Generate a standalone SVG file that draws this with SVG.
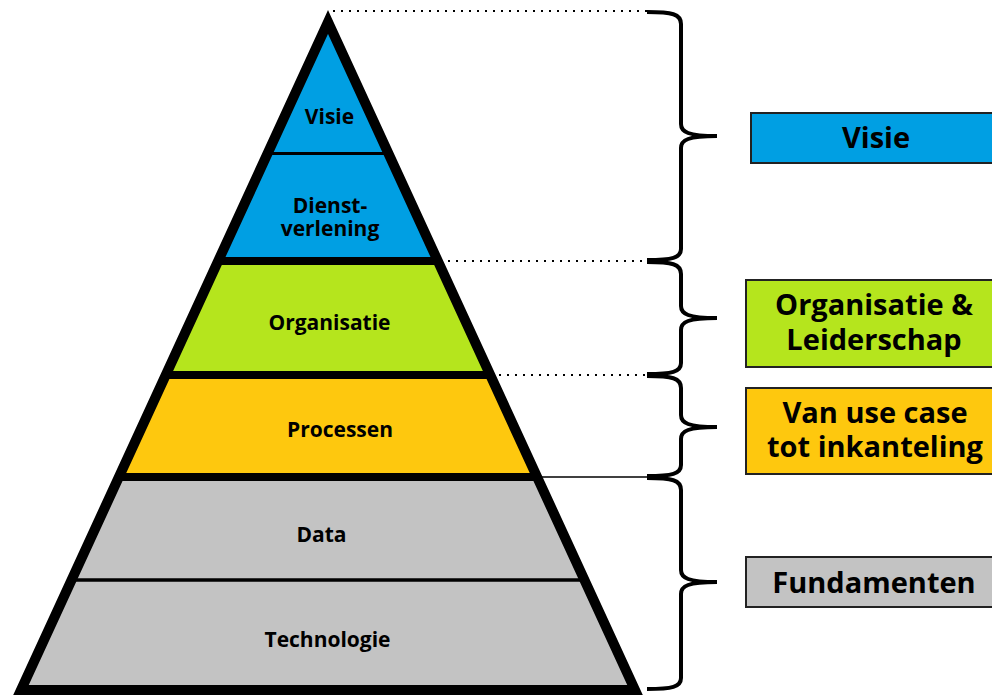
<svg xmlns="http://www.w3.org/2000/svg" width="992" height="696" viewBox="0 0 992 696">
<style>
.lbl{font-family:"Open Sans","Liberation Sans",sans-serif;font-weight:bold;font-size:21px;fill:#000;text-anchor:middle}
.big{font-family:"Open Sans","Liberation Sans",sans-serif;font-weight:bold;font-size:29px;fill:#000;text-anchor:middle}
.box{stroke:#222;stroke-width:2}
.brace{fill:none;stroke:#000;stroke-width:4;stroke-linecap:butt}
.dot{stroke:#000;stroke-width:2;stroke-dasharray:2 6}
</style>
<defs>
<clipPath id="tri"><polygon points="328,22 21,690 635,690"/></clipPath>
</defs>
<rect width="992" height="696" fill="#fff"/>
<g id="connectors">
<line class="dot" x1="333" y1="11" x2="647" y2="11"/>
<line class="dot" x1="448" y1="261" x2="647" y2="261"/>
<line class="dot" x1="499" y1="375" x2="647" y2="375"/>
<line x1="540" y1="477" x2="647" y2="477" stroke="#000" stroke-width="1.5"/>
<path class="brace" d="M647,12 C672,12 681,14 681,24 L681,124 C681,132 688,136 717,136 M717,136 C688,136 681,140 681,148 L681,249 C681,258 672,260 647,260"/>
<path class="brace" d="M647,262 C672,262 681,264 681,274 L681,306 C681,314 688,318 717,318 M717,318 C688,318 681,322 681,330 L681,363 C681,372 672,374 647,374"/>
<path class="brace" d="M647,376 C672,376 681,378 681,388 L681,415 C681,423 688,427 717,427 M717,427 C688,427 681,431 681,439 L681,465 C681,474 672,476 647,476"/>
<path class="brace" d="M647,478 C672,478 681,480 681,490 L681,570 C681,578 688,582 717,582 M717,582 C688,582 681,586 681,594 L681,678 C681,687 672,689 647,689"/>
</g>
<g id="pyramid">
<g clip-path="url(#tri)">
<rect x="0" y="0" width="700" height="261" fill="#009FE3"/>
<rect x="0" y="261" width="700" height="114" fill="#B5E51D"/>
<rect x="0" y="375" width="700" height="102" fill="#FEC80E"/>
<rect x="0" y="477" width="700" height="220" fill="#C3C3C3"/>
<line x1="0" y1="153.5" x2="700" y2="153.5" stroke="#000" stroke-width="3"/>
<line x1="0" y1="261" x2="700" y2="261" stroke="#000" stroke-width="8"/>
<line x1="0" y1="375" x2="700" y2="375" stroke="#000" stroke-width="8"/>
<line x1="0" y1="477" x2="700" y2="477" stroke="#000" stroke-width="8"/>
<line x1="0" y1="580" x2="700" y2="580" stroke="#000" stroke-width="3.5"/>
</g>
<polygon points="328,22 21,690 635,690" fill="none" stroke="#000" stroke-width="10" stroke-linejoin="miter" stroke-miterlimit="10"/>
</g>
<g id="layer-visie"><text class="lbl" x="329.5" y="124">Visie</text></g>
<g id="layer-dienstverlening"><text class="lbl" x="330" y="213">Dienst-</text><text class="lbl" x="330" y="236">verlening</text></g>
<g id="layer-organisatie"><text class="lbl" x="329.5" y="330">Organisatie</text></g>
<g id="layer-processen"><text class="lbl" x="340" y="437">Processen</text></g>
<g id="layer-data"><text class="lbl" x="321.5" y="542">Data</text></g>
<g id="layer-technologie"><text class="lbl" x="327.5" y="647">Technologie</text></g>
<g id="box-visie"><rect class="box" x="751" y="113" width="260" height="50" fill="#009FE3"/><text class="big" x="876" y="148">Visie</text></g>
<g id="box-organisatie"><rect class="box" x="746" y="280" width="260" height="87" fill="#B5E51D"/><text class="big" x="874" y="315">Organisatie &amp;</text><text class="big" x="874" y="350">Leiderschap</text></g>
<g id="box-processen"><rect class="box" x="746" y="388" width="260" height="86" fill="#FEC80E"/><text class="big" x="875" y="423">Van use case</text><text class="big" x="875" y="457">tot inkanteling</text></g>
<g id="box-fundamenten"><rect class="box" x="746" y="557" width="260" height="50" fill="#C3C3C3"/><text class="big" x="874" y="593">Fundamenten</text></g>
</svg>
